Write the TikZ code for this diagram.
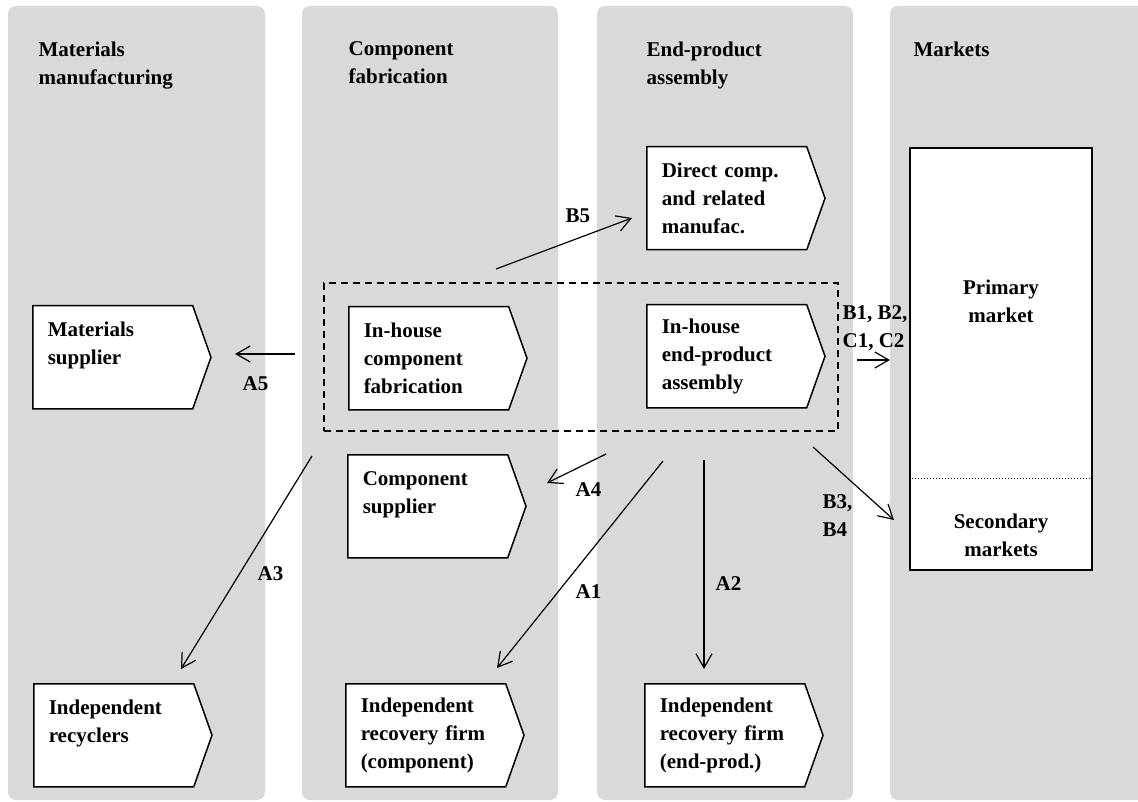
\documentclass[tikz,border=0pt]{standalone}
\usepackage{fontspec}
\setmainfont{Liberation Serif}
\usetikzlibrary{shapes.symbols,arrows.meta,positioning}
\definecolor{lanegray}{HTML}{D9D9D9}

\begin{document}
\begin{tikzpicture}[->,>={Straight Barb[length=14pt,width=16pt]},x=1pt,y=-1pt,line width=1.2pt,
  font=\fontsize{21}{28}\selectfont\bfseries]
\tikzstyle{lane}=[fill=lanegray,rounded corners=8pt]
\tikzstyle{firm}=[signal,signal to=east,signal pointer angle=141,draw=black,fill=white,line width=1.5pt,
  anchor=north west,text width=130pt,align=left,inner xsep=15pt,minimum height=103pt]
\tikzstyle{head}=[anchor=north west,align=left,inner sep=0pt]
\tikzstyle{lbl}=[anchor=north west,align=left,inner sep=0pt]
\useasboundingbox (0,0) rectangle (1138,802);
% lanes
\fill[lane] (8,6) rectangle (265,800);
\fill[lane] (302,6) rectangle (558,800);
\fill[lane] (597,6) rectangle (853,800);
\fill[lane] (890,6) rectangle (1160,800);
\node[head] (H1) at (38,41) {Materials\\manufacturing};
\node[head] (H2) at (348,41) {Component\\fabrication};
\node[head] (H3) at (646,41) {End-product\\assembly};
\node[head] (H4) at (913,41) {Markets};
% firms
\node[firm] (DC) at (646,146) {Direct comp.\\and related\\manufac.};
\node[firm] (MS) at (32,305) {Materials\\supplier\\\mbox{}};
\node[firm] (IC) at (348,306) {In-house\\component\\fabrication};
\node[firm] (IE) at (646,304) {In-house\\end-product\\assembly};
\node[firm] (CS) at (347,454) {Component\\supplier\\\mbox{}};
\node[firm] (IR) at (33,683) {Independent\\recyclers\\\mbox{}};
\node[firm] (RC) at (345,683) {Independent\\recovery firm\\(component)};
\node[firm] (RE) at (644,683) {Independent\\recovery firm\\(end-prod.)};
\node[draw,dash pattern=on 7pt off 5pt,minimum width=514pt,minimum height=148pt,inner sep=0pt] (G) at (581,357) {};
% markets
\node[draw,fill=white,line width=1.5pt,minimum width=182pt,minimum height=422pt,inner sep=0pt] (M) at (1001,359) {};
\draw[-,line width=1pt,dotted] (M.west |- 0,478) -- (M.east |- 0,478);
\node[anchor=north,align=center,inner sep=0pt] (PM) at (1001,279) {Primary\\market};
\node[anchor=north,align=center,inner sep=0pt] (SM) at (1001,513) {Secondary\\markets};
% arrow ends
\coordinate (a5s) at (295,354); \coordinate (a5e) at (235,354);
\coordinate (b5s) at (496,269); \coordinate (b5e) at (632,218);
\coordinate (b1s) at (857,360); \coordinate (b1e) at (890,360);
\coordinate (b3s) at (813,447); \coordinate (b3e) at (894,520);
\coordinate (a4s) at (606,454); \coordinate (a4e) at (547,483);
\coordinate (a1s) at (663,461); \coordinate (a1e) at (497,668);
\coordinate (a2s) at (704,460); \coordinate (a2e) at (704,669);
\coordinate (a3s) at (312,456); \coordinate (a3e) at (181,669);
\draw (a5s) -- (a5e);
\draw (b5s) -- (b5e);
\draw (b1s) -- (b1e);
\draw (b3s) -- (b3e);
\draw (a4s) -- (a4e);
\draw (a1s) -- (a1e);
\draw (a2s) -- (a2e);
\draw (a3s) -- (a3e);
\node[lbl] (LA5) at (242,376) {A5};
\node[lbl] (LB5) at (565,208) {B5};
\node[lbl] (LB1) at (842,305) {B1, B2,\\C1, C2};
\node[lbl] (LB3) at (822,494) {B3,\\B4};
\node[lbl] (LA4) at (575,482) {A4};
\node[lbl] (LA1) at (575,584) {A1};
\node[lbl] (LA2) at (715,576) {A2};
\node[lbl] (LA3) at (257,566) {A3};
\end{tikzpicture}
\end{document}
